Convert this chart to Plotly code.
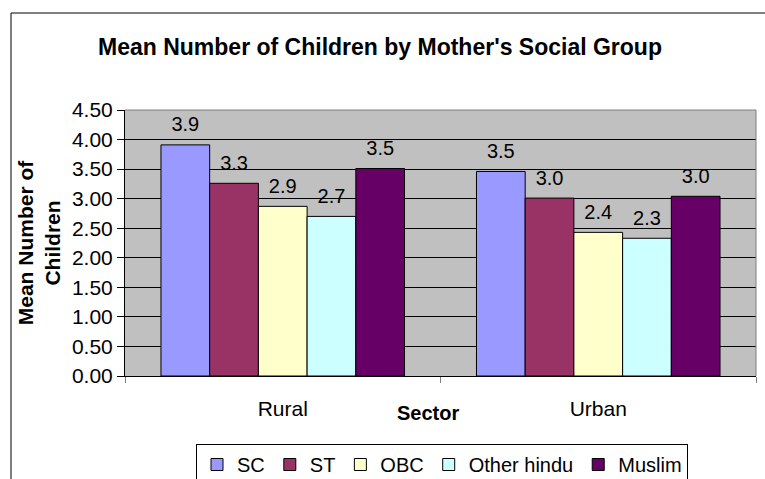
import plotly.graph_objects as go

# ---- data ----
sectors = ["Rural", "Urban"]
groups = ["SC", "ST", "OBC", "Other hindu", "Muslim"]
sc = [3.91, 3.46]
st = [3.26, 3.01]
obc = [2.87, 2.43]
other_hindu = [2.70, 2.33]
muslim = [3.51, 3.04]
series_values = [sc, st, obc, other_hindu, muslim]
colors = ["#9999FF", "#993366", "#FFFFCC", "#CCFFFF", "#660066"]
y_tick_values = [0.0, 0.5, 1.0, 1.5, 2.0, 2.5, 3.0, 3.5, 4.0, 4.5]

FONT = "Liberation Sans, Arial, sans-serif"
W, H = 765, 479
L, R, T, B = 125, 9, 110, 103
PW, PH = W - L - R, H - T - B

fig = go.Figure()

for name, vals, col in zip(groups, series_values, colors):
    fig.add_trace(go.Bar(
        x=sectors, y=vals, name=name, offsetgroup=name,
        marker=dict(color=col, line=dict(color="black", width=1)),
        textposition="none", hoverinfo="x+y+name",
    ))

# data labels placed above each bar (grouped like the bars)
for name, vals in zip(groups, series_values):
    fig.add_trace(go.Scatter(
        x=sectors, y=vals, offsetgroup=name, mode="markers+text",
        marker=dict(size=12, color="rgba(0,0,0,0)"),
        texttemplate="%{y:.1f}", textposition="top center",
        textfont=dict(family=FONT, size=20, color="black"),
        showlegend=False, hoverinfo="skip", cliponaxis=False,
    ))

fig.update_layout(
    width=W, height=H,
    margin=dict(l=L, r=R, t=T, b=B, autoexpand=False),
    paper_bgcolor="white", plot_bgcolor="#C0C0C0",
    barmode="group", bargap=0.228, bargroupgap=0,
    scattermode="group",
    font=dict(family=FONT, color="black", size=20),
    title=dict(
        text="Mean Number of Children by Mother's Social Group",
        font=dict(family=FONT, size=23, color="black", weight="bold"),
        x=380 / W, xref="container", xanchor="center",
        y=1 - 47 / H, yref="container", yanchor="middle",
    ),
    legend=dict(
        orientation="h", xref="container", yref="container",
        x=442 / W, xanchor="center", y=1 - 444 / H, yanchor="top",
        bgcolor="white", bordercolor="black", borderwidth=1,
        font=dict(family=FONT, size=20, color="black"),
        itemwidth=30, traceorder="normal",
    ),
    showlegend=True,
)

fig.update_xaxes(
    showline=True, linecolor="black", linewidth=1, automargin=False,
    ticks="outside", tickson="boundaries", ticklen=6, tickcolor="#808080",
    tickfont=dict(family=FONT, size=21, color="black"),
    ticklabelstandoff=14, showgrid=False, zeroline=False,
)
fig.update_yaxes(
    range=[0, 4.5], tickvals=y_tick_values, tickformat=".2f", automargin=False,
    showline=True, linecolor="black", linewidth=1,
    ticks="outside", ticklen=7, tickcolor="black",
    tickfont=dict(family=FONT, size=21, color="black"),
    showgrid=True, gridcolor="black", gridwidth=1, zeroline=False,
    title=dict(text="Mean Number of<br>Children",
               font=dict(family=FONT, size=21, color="black", weight="bold"),
               standoff=5),
)

# x-axis title
fig.add_annotation(
    text="Sector", xref="paper", yref="paper", x=(428 - L) / PW, y=(376 - 413) / PH,
    xanchor="center", yanchor="middle", showarrow=False,
    font=dict(family=FONT, size=20, color="black", weight="bold"),
)
# caption above the chart frame, mostly cut off by the top edge (as in the source)
fig.add_annotation(
    text="Chart:", xref="paper", yref="paper", x=(3 - L) / PW, y=(376 - 4) / PH,
    xanchor="left", yanchor="bottom", showarrow=False,
    font=dict(family=FONT, size=20, color="#555555"),
)

# plot-area border (top and right, grey)
fig.add_shape(type="line", xref="paper", yref="paper", x0=0, x1=1, y0=1, y1=1,
              line=dict(color="#808080", width=1))
fig.add_shape(type="line", xref="paper", yref="paper", x0=1, x1=1, y0=0, y1=1,
              line=dict(color="#808080", width=1))
# outer chart frame
fig.add_shape(type="rect", xref="paper", yref="paper",
              x0=(11 - L) / PW, x1=(780 - L) / PW,
              y0=(376 - 520) / PH, y1=(376 - 13) / PH,
              line=dict(color="black", width=1), layer="below")

fig.write_html("out.html", config={"displayModeBar": False},
               post_script="document.body.style.margin='0';")
